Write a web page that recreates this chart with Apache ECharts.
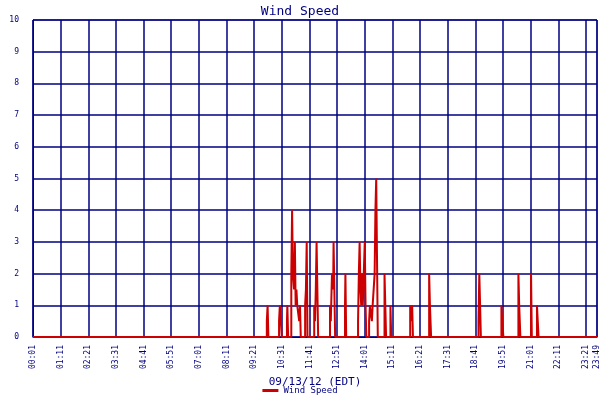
<!DOCTYPE html>
<html><head><meta charset="utf-8">
<script src="https://cdn.jsdelivr.net/npm/echarts@6/dist/echarts.min.js"></script>
<style>html,body{margin:0;padding:0;background:#fff}#c{width:600px;height:400px}</style>
</head><body><div id="c"></div>
<script>
// minutes after 00:01, paired line by line with speeds
const times = [0,
 592,594,596,
 623,625,628,630,
 643,644,646,
 654,656,658,661,663,665,667,669,672,674,676,678,
 689,691,693,695,
 712,714,716,718,720,722,
 752,754,757,760,761,763,765,
 790,791,793,
 823,825,827,829,831,833,835,838,840,842,844,
 851,853,856,858,860,863,865,867,869,871,873,
 890,892,894,
 905,907,
 955,957,960,962,
 1003,1005,1008,
 1128,1130,1132,1134,
 1186,1188,1191,
 1229,1231,1234,
 1261,1263,
 1276,1278,1280,
 1428];
const speeds = [0,
 0.5,1,0,
 0.5,1,1,0,
 0.5,1,0,
 2,4,2,1.5,3,1,1.5,1,1,0.5,1,0,
 1,1.5,3,0,
 1,0.5,1.5,3,1.5,0,
 1,0.5,2,1.5,3,1.5,0,
 1,2,0,
 0.5,2,3,1.5,1,2,1,1,3,1,0,
 0.5,1,1,0.5,1,1,2,4,5,2.5,0,
 2,1,0,
 1,0,
 1,0.5,1,0,
 2,1,0,
 0.5,2,1,0,
 1,0.5,0,
 2,1,0,
 2,0,
 1,0.5,0,
 0];
const yTicks = [0,1,2,3,4,5,6,7,8,9,10];
const seriesName = 'Wind Speed';
const xTitle = '09/13/12 (EDT)';
const yTitle = 'MPH';

function fmt(m){ m = m + 1; const h = Math.floor(m/60), mm = m%60; return String(h).padStart(2,'0')+':'+String(mm).padStart(2,'0'); }
const navy = '#000080', font = 'DejaVu Sans Mono';
const chart = echarts.init(document.getElementById('c'));
chart.setOption({
  backgroundColor:'#fff', animation:false,
  title:{text:seriesName,left:'center',top:0,textStyle:{color:navy,fontFamily:font,fontSize:13,fontWeight:'normal'}},
  legend:{bottom:0,left:'center',itemWidth:16,itemHeight:3,icon:'rect',textStyle:{color:navy,fontFamily:font,fontSize:9},data:[seriesName]},
  grid:{left:33,right:3,top:20,bottom:63,show:true,borderColor:navy,borderWidth:1,outerBoundsMode:'none',containLabel:false},
  xAxis:{type:'value',min:0,max:1428,interval:70,name:xTitle,nameLocation:'middle',nameGap:40,
    nameTextStyle:{color:navy,fontFamily:font,fontSize:11},
    axisLine:{lineStyle:{color:navy}},axisTick:{show:false},
    axisLabel:{rotate:90,color:navy,fontFamily:font,fontSize:8,formatter:v=>fmt(v),showMaxLabel:true},
    splitLine:{lineStyle:{color:navy,width:1.5}}},
  yAxis:{type:'value',min:0,max:10,interval:1,name:yTitle,nameLocation:'middle',nameGap:24,
    nameTextStyle:{color:navy,fontFamily:font,fontSize:10},
    axisLine:{lineStyle:{color:navy}},axisTick:{show:false},
    axisLabel:{color:navy,fontFamily:font,fontSize:8,margin:14,formatter:v=>yTicks.includes(v)?String(v):''},
    splitLine:{lineStyle:{color:navy,width:1.5}}},
  series:[{name:seriesName,type:'line',step:'end',symbol:'none',color:'#cc0000',
    lineStyle:{color:'#cc0000',width:2},data:times.map((t,i)=>[t,speeds[i]])}]
});
</script></body></html>
